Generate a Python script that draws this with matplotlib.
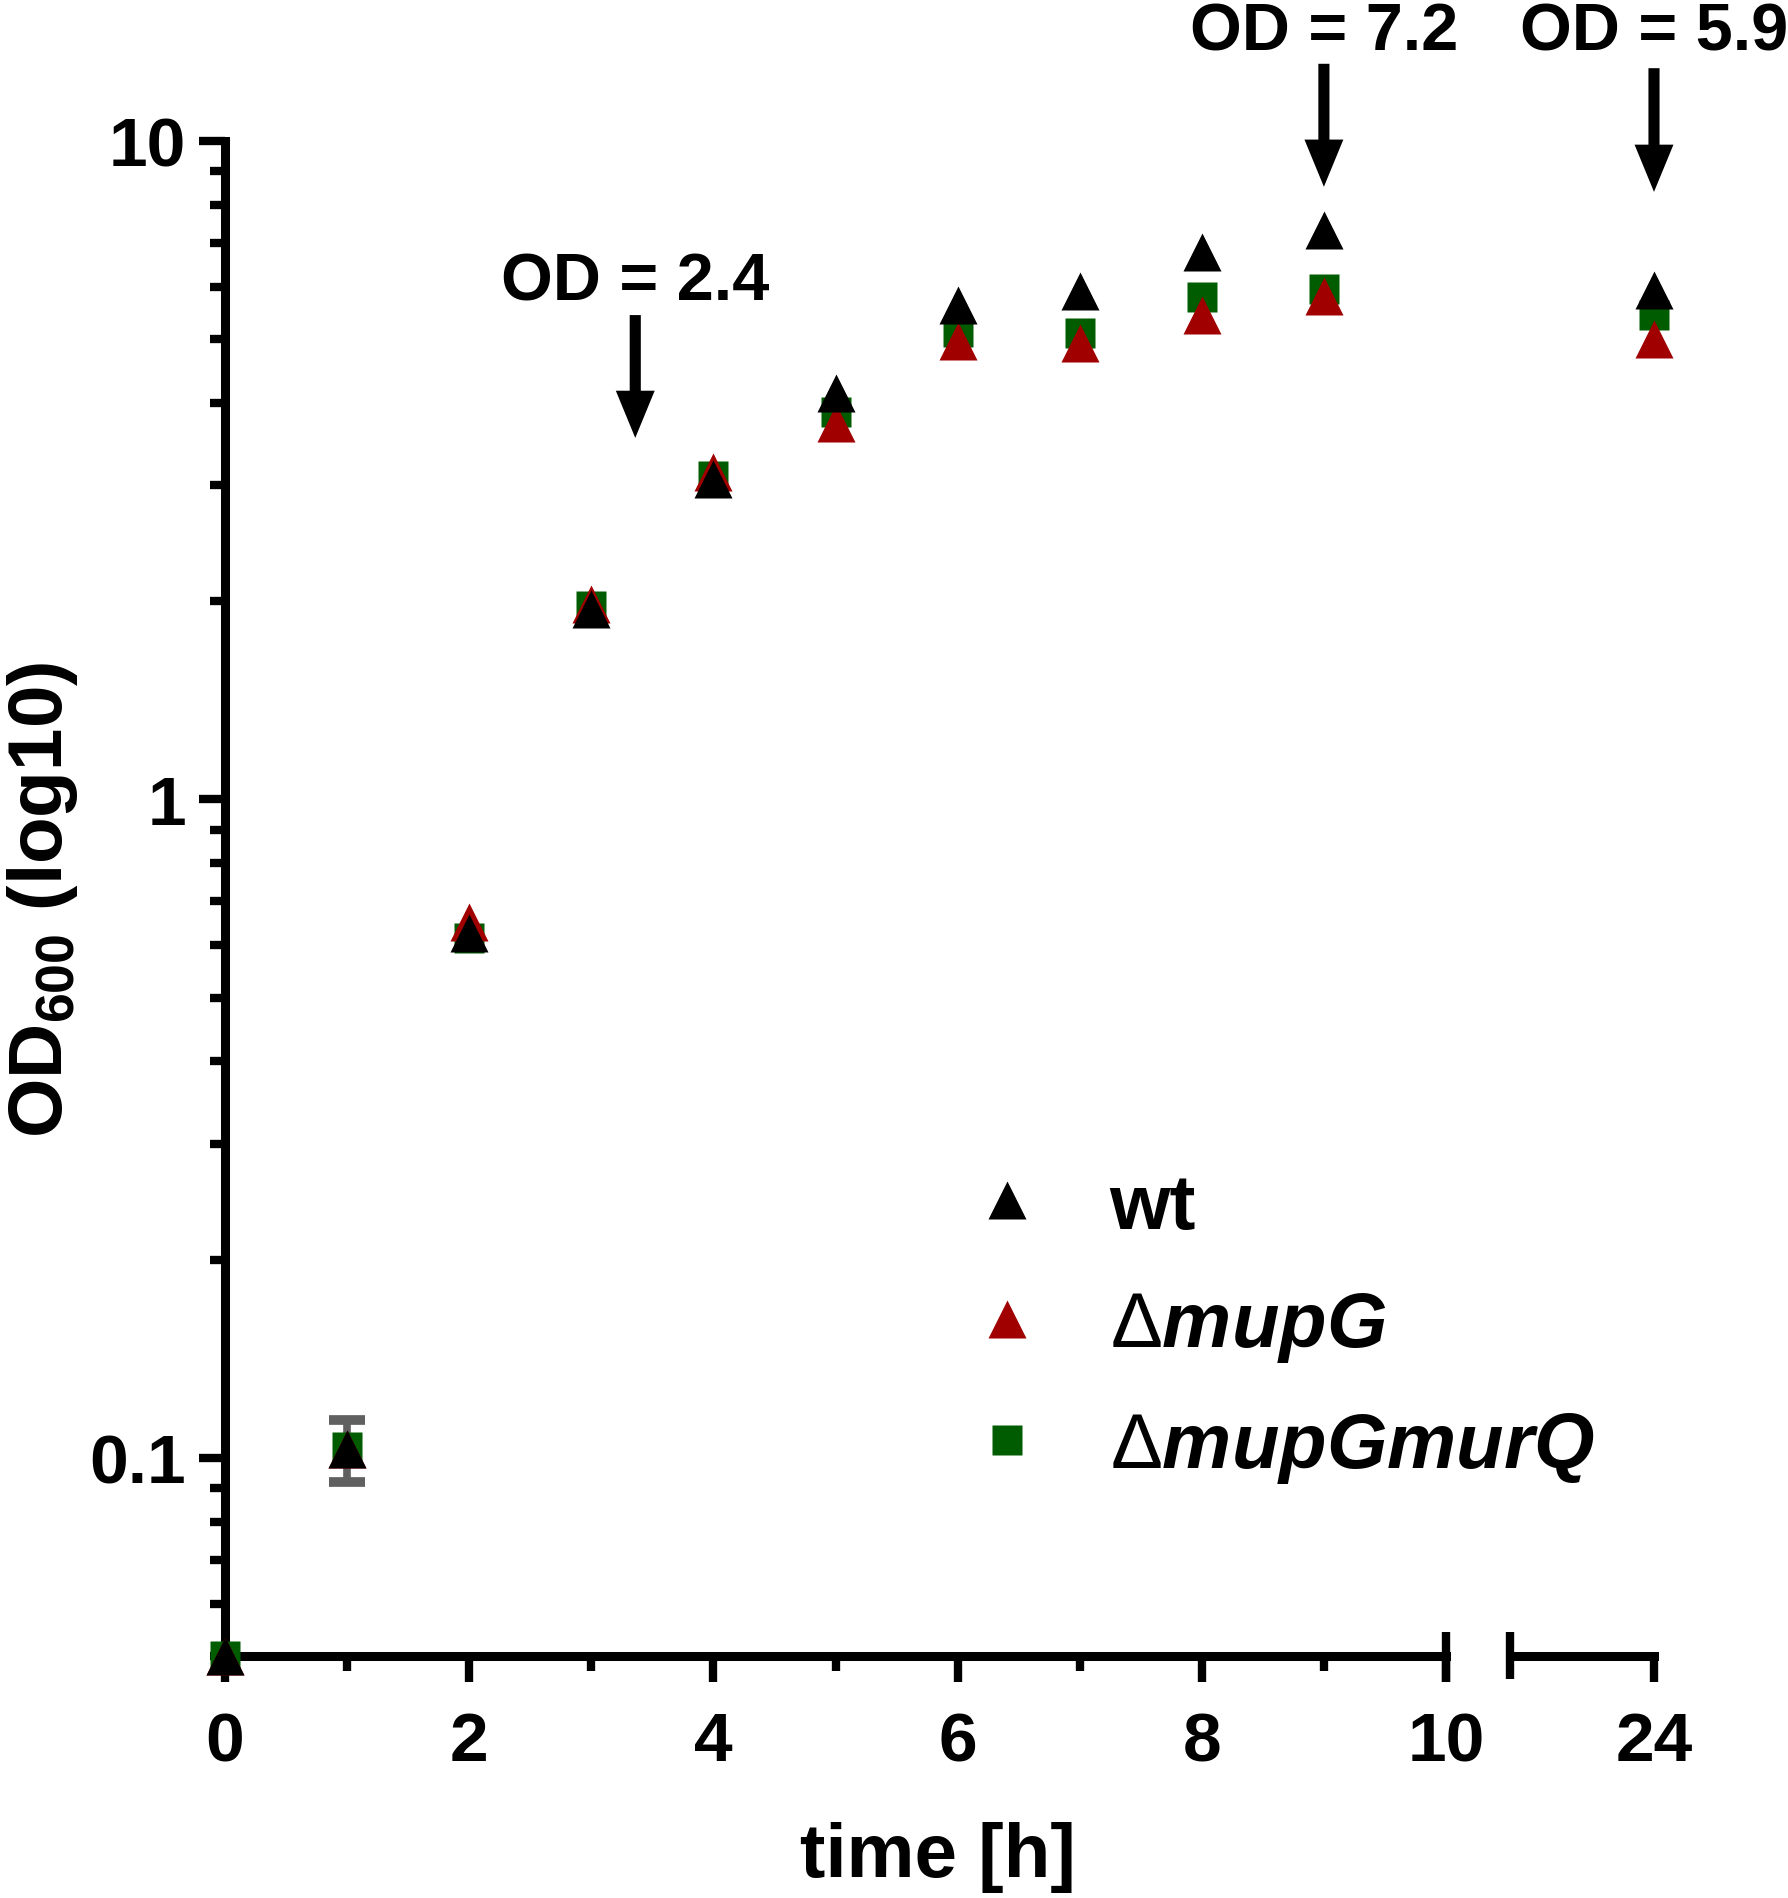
import numpy as np
import matplotlib
matplotlib.use("Agg")
import matplotlib.pyplot as plt
from matplotlib.ticker import FixedLocator, LogLocator, NullFormatter, FuncFormatter

# font setup: Arial-like bold everywhere, bold italic for gene names
plt.rcParams["font.family"] = "Liberation Sans"
plt.rcParams["font.weight"] = "bold"
plt.rcParams["mathtext.fontset"] = "custom"
plt.rcParams["mathtext.rm"] = "Liberation Sans:weight=normal"
plt.rcParams["mathtext.it"] = "Liberation Sans:bold:italic"
plt.rcParams["mathtext.bf"] = "Liberation Sans:bold"

# data
time_h = np.array([0, 1, 2, 3, 4, 5, 6, 7, 8, 9, 24])
od_wt = np.array([0.05, 0.103, 0.627, 1.945, 3.07, 4.14, 5.64, 5.92, 6.79, 7.33, 5.94])
od_mupG = np.array([0.05, 0.103, 0.651, 1.98, 3.14, 3.73, 4.97, 4.93, 5.45, 5.81, 5.01])
od_mupGmurQ = np.array([0.05, 0.104, 0.616, 1.97, 3.10, 3.87, 5.13, 5.11, 5.79, 5.96, 5.44])
sd_wt = np.array([0, 0.0112, 0, 0, 0, 0, 0, 0, 0, 0, 0])

labels = ["wt", r"$\Delta mupG$", r"$\Delta mupGmurQ$"]
colors = ["black", "#a00000", "#005c00"]

arrow_x = [3.36, 9.0, 24.0]
arrow_text = ["OD = 2.4", "OD = 7.2", "OD = 5.9"]
arrow_top = [5.44, 13.1, 12.9]
arrow_tip = [3.54, 8.52, 8.37]
text_y = [5.74, 13.75, 13.75]

W, H = 1788, 1899
fig = plt.figure(figsize=(W / 100, H / 100), dpi=100)

# main axis 0-10 h and short segment for 24 h (broken x axis)
x0, x10, y_bot, y_top = 225, 1446, 1657, 142
ax = fig.add_axes([x0 / W, 1 - y_bot / H, (x10 - x0) / W, (y_bot - y_top) / H])
x2a, x2b = 1510, 1654
ax2 = fig.add_axes([x2a / W, 1 - y_bot / H, (x2b - x2a) / W, (y_bot - y_top) / H])
ax2.patch.set_alpha(0)

lw_spine = 6.5
for a in (ax, ax2):
    a.set_yscale("log")
    a.set_ylim(0.05, 10)
    for s in ("top", "right"):
        a.spines[s].set_visible(False)
    a.spines["bottom"].set_linewidth(lw_spine)
    a.spines["left"].set_linewidth(lw_spine)
    a.tick_params(which="major", length=19, width=6, labelsize=50, pad=20)
    a.tick_params(which="minor", length=10.5, width=6)

ax.set_xlim(0, 10)
ax2.set_xlim(22.82, 24)
ax2.spines["left"].set_visible(False)
ax2.tick_params(axis="y", which="both", left=False, labelleft=False)

ax.xaxis.set_major_locator(FixedLocator([0, 2, 4, 6, 8, 10]))
ax.xaxis.set_minor_locator(FixedLocator([1, 3, 5, 7, 9]))
ax2.xaxis.set_major_locator(FixedLocator([24]))
ax2.xaxis.set_minor_locator(FixedLocator([]))

ax.yaxis.set_major_locator(FixedLocator([0.1, 1, 10]))
ax.yaxis.set_minor_locator(LogLocator(base=10, subs=np.arange(2, 10)))
ax.yaxis.set_minor_formatter(NullFormatter())
ax.yaxis.set_major_formatter(FuncFormatter(lambda v, p: "%g" % v))
ax.tick_params(axis="y", which="major", pad=9)

# break marks
ax.plot([1, 1], [-0.017, 0.016], transform=ax.transAxes, color="black",
        lw=6, clip_on=False, solid_capstyle="butt")
ax2.plot([0, 0], [-0.015, 0.016], transform=ax2.transAxes, color="black",
         lw=6, clip_on=False, solid_capstyle="butt")

early = time_h <= 10
late = ~early
series = [od_wt, od_mupG, od_mupGmurQ]
markers = ["^", "^", "s"]
sizes = [28, 28, 21.5]
zorders = [6, 5, 4]

has_sd = sd_wt > 0
ax.errorbar(time_h[has_sd], od_wt[has_sd], yerr=sd_wt[has_sd], fmt="none",
            ecolor="#606060", elinewidth=5.5, capsize=13.3, capthick=7, zorder=3)

handles = []
for vals, m, ms, c, z in zip(series, markers, sizes, colors, zorders):
    h, = ax.plot(time_h[early], vals[early], ls="none", marker=m, ms=ms,
                 color=c, mec="none", zorder=z, clip_on=False)
    ax2.plot(time_h[late], vals[late], ls="none", marker=m, ms=ms,
             color=c, mec="none", zorder=z, clip_on=False)
    handles.append(h)

# arrows with OD annotations
for xa, txt, yt, yp, ty in zip(arrow_x, arrow_text, arrow_top, arrow_tip, text_y):
    a = ax2 if xa > 10 else ax
    a.annotate("", xy=(xa, yp), xytext=(xa, yt), annotation_clip=False,
               arrowprops=dict(facecolor="black", edgecolor="none", width=8,
                               headwidth=28, headlength=34, shrink=0))
    a.text(xa, ty, txt, ha="center", va="baseline", fontsize=48,
           fontweight="bold", clip_on=False)

ax.set_ylabel(r"OD$_{\mathbf{600}}$ (log10)", fontsize=55, fontweight="bold")
ax.yaxis.set_label_coords(-0.119, 0.5)
ax.set_xlabel("time [h]", fontsize=55, fontweight="bold")
ax.xaxis.set_label_coords(0.584, -0.109)

ax.legend(handles, labels, loc="center left",
          bbox_to_anchor=(968 / W, 1 - 1329 / H), bbox_transform=fig.transFigure,
          frameon=False, fontsize=56, handlelength=1.0, handletextpad=0.82,
          labelspacing=0.59, borderpad=0, borderaxespad=0, numpoints=1)

fig.savefig("out.png", dpi=100)
